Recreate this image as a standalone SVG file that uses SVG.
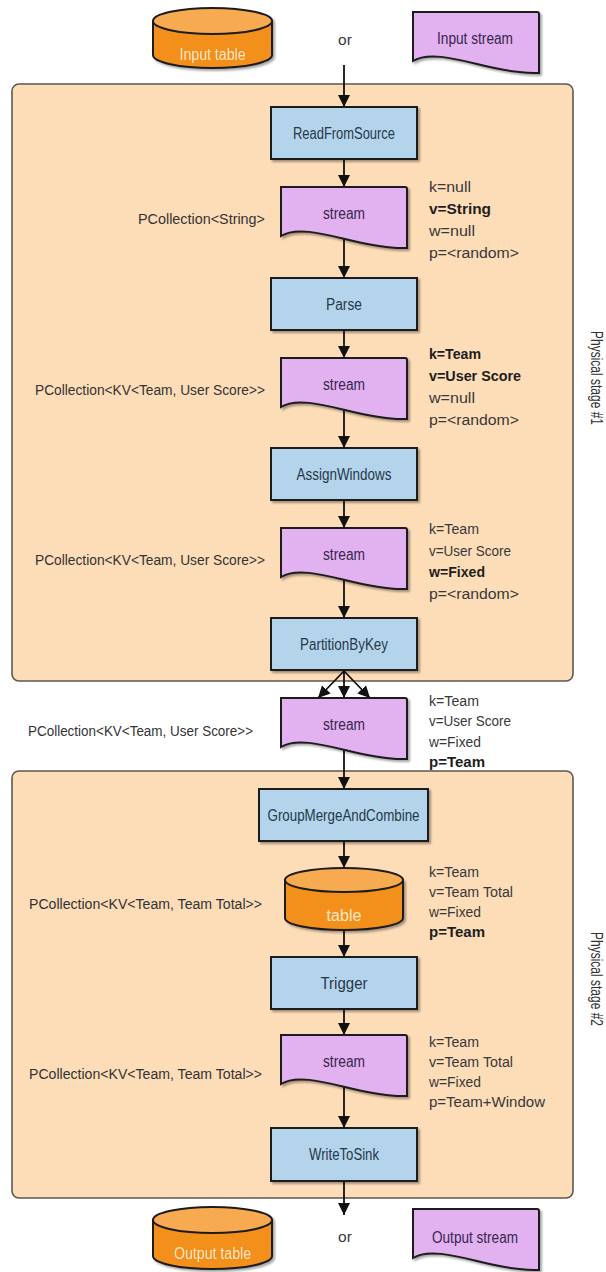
<svg xmlns="http://www.w3.org/2000/svg" xmlns:xlink="http://www.w3.org/1999/xlink" width="606" height="1272" viewBox="0 0 606 1272">
  <style>
    .stage { fill: #fddcb8; stroke: #5f574f; stroke-width: 1.6; }
    .box { fill: #b4d4ec; stroke: #1c1c1c; stroke-width: 2; }
    .strm { fill: #e1b1f0; stroke: #1c1c1c; stroke-width: 2; }
    .cyl { fill: #f3901d; stroke: #1c1c1c; stroke-width: 2; }
    .cyltop { fill: #f7aa50; stroke: #1c1c1c; stroke-width: 2; }
    .shadow { filter: url(#drop); }
    text { font-family: "Liberation Sans", Arial, sans-serif; }
    .lbl { font-size: 16px; fill: #26384a; text-anchor: middle; }
    .slbl { font-size: 16px; fill: #38264e; text-anchor: middle; }
    .tlbl { font-size: 16px; fill: #fde6c6; text-anchor: middle; }
    .note { font-size: 15.5px; fill: #383838; }
    .b { font-weight: bold; fill: #1e1e1e; }
    .coll { font-size: 15.5px; fill: #333333; text-anchor: end; }
    .stg { font-size: 16px; fill: #333333; text-anchor: middle; }
    .edge { stroke: #111111; stroke-width: 1.8; fill: none; marker-end: url(#arrow); }
  </style>
  <defs>
    <filter id="drop" x="-10%" y="-10%" width="130%" height="140%">
      <feDropShadow dx="2" dy="2" stdDeviation="1.2" flood-color="#000000" flood-opacity="0.35"/>
    </filter>
    <marker id="arrow" markerUnits="userSpaceOnUse" markerWidth="13" markerHeight="13" refX="12" refY="6.5" orient="auto">
      <path d="M0,0.5 L12,6.5 L0,12.5 Z" fill="#111111"/>
    </marker>
    <!-- document shape with a wavy lower edge, 126 wide -->
    <path id="doc" d="M0,0 H124 Q126,0 126,2 V61 C108,62 88,58 64,52 C40,46 14,40 0,49 Z"/>
  </defs>

  <!-- physical stage frames -->
  <g id="stage1">
    <rect class="stage" x="12" y="84" width="561" height="597" rx="7"/>
    <text class="stg" transform="translate(591,378) rotate(90)" textLength="94" lengthAdjust="spacingAndGlyphs">Physical stage #1</text>
  </g>
  <g id="stage2">
    <rect class="stage" x="12" y="771" width="561" height="427" rx="7"/>
    <text class="stg" transform="translate(591,979) rotate(90)" textLength="94" lengthAdjust="spacingAndGlyphs">Physical stage #2</text>
  </g>

  <!-- connectors -->
  <g id="connectors">
    <line class="edge" x1="344" y1="65" x2="344" y2="107"/>
    <line class="edge" x1="344" y1="159" x2="344" y2="187"/>
    <line class="edge" x1="344" y1="239" x2="344" y2="278"/>
    <line class="edge" x1="344" y1="330" x2="344" y2="358"/>
    <line class="edge" x1="344" y1="410" x2="344" y2="448"/>
    <line class="edge" x1="344" y1="500" x2="344" y2="528"/>
    <line class="edge" x1="344" y1="580" x2="344" y2="618"/>
    <line class="edge" x1="344" y1="671" x2="318" y2="698"/>
    <line class="edge" x1="344" y1="671" x2="344" y2="698"/>
    <line class="edge" x1="344" y1="671" x2="370" y2="698"/>
    <line class="edge" x1="344" y1="750" x2="344" y2="789"/>
    <line class="edge" x1="344" y1="841" x2="344" y2="868"/>
    <line class="edge" x1="344" y1="930" x2="344" y2="957"/>
    <line class="edge" x1="344" y1="1009" x2="344" y2="1035"/>
    <line class="edge" x1="344" y1="1087" x2="344" y2="1128"/>
    <line class="edge" x1="344" y1="1181" x2="344" y2="1215"/>
  </g>

  <!-- sources -->
  <g id="input-table" class="shadow">
    <path class="cyl" d="M153,21 V55 A59.5,13 0 0 0 272,55 V21 Z"/>
    <ellipse class="cyltop" cx="212.5" cy="21" rx="59.5" ry="13"/>
    <text class="tlbl" x="212.5" y="60" textLength="66" lengthAdjust="spacingAndGlyphs">Input table</text>
  </g>
  <g id="or-top">
    <text class="note" x="345" y="45" text-anchor="middle">or</text>
  </g>
  <g id="input-stream">
    <use xlink:href="#doc" class="strm shadow" transform="translate(413,12)"/>
    <text class="slbl" x="475" y="44" textLength="76" lengthAdjust="spacingAndGlyphs">Input stream</text>
  </g>

  <!-- stage 1 -->
  <g id="read-from-source">
    <rect class="box shadow" x="271" y="107" width="146" height="52"/>
    <text class="lbl" x="344" y="139" textLength="102" lengthAdjust="spacingAndGlyphs">ReadFromSource</text>
  </g>
  <g id="stream-1">
    <use xlink:href="#doc" class="strm shadow" transform="translate(281,187)"/>
    <text class="slbl" x="344" y="219" textLength="42" lengthAdjust="spacingAndGlyphs">stream</text>
    <text class="coll" x="265" y="224" textLength="127" lengthAdjust="spacingAndGlyphs">PCollection&lt;String&gt;</text>
    <text class="note" x="429" y="192" textLength="42" lengthAdjust="spacingAndGlyphs">k=null</text>
    <text class="note b" x="429" y="214" textLength="62" lengthAdjust="spacingAndGlyphs">v=String</text>
    <text class="note" x="429" y="236" textLength="46" lengthAdjust="spacingAndGlyphs">w=null</text>
    <text class="note" x="429" y="258" textLength="90" lengthAdjust="spacingAndGlyphs">p=&lt;random&gt;</text>
  </g>
  <g id="parse">
    <rect class="box shadow" x="271" y="278" width="146" height="52"/>
    <text class="lbl" x="344" y="310" textLength="36" lengthAdjust="spacingAndGlyphs">Parse</text>
  </g>
  <g id="stream-2">
    <use xlink:href="#doc" class="strm shadow" transform="translate(281,358)"/>
    <text class="slbl" x="344" y="390" textLength="42" lengthAdjust="spacingAndGlyphs">stream</text>
    <text class="coll" x="265" y="395" textLength="230" lengthAdjust="spacingAndGlyphs">PCollection&lt;KV&lt;Team, User Score&gt;&gt;</text>
    <text class="note b" x="429" y="359" textLength="52" lengthAdjust="spacingAndGlyphs">k=Team</text>
    <text class="note b" x="429" y="381" textLength="92" lengthAdjust="spacingAndGlyphs">v=User Score</text>
    <text class="note" x="429" y="403" textLength="46" lengthAdjust="spacingAndGlyphs">w=null</text>
    <text class="note" x="429" y="425" textLength="90" lengthAdjust="spacingAndGlyphs">p=&lt;random&gt;</text>
  </g>
  <g id="assign-windows">
    <rect class="box shadow" x="271" y="448" width="146" height="52"/>
    <text class="lbl" x="344" y="480" textLength="95" lengthAdjust="spacingAndGlyphs">AssignWindows</text>
  </g>
  <g id="stream-3">
    <use xlink:href="#doc" class="strm shadow" transform="translate(281,528)"/>
    <text class="slbl" x="344" y="560" textLength="42" lengthAdjust="spacingAndGlyphs">stream</text>
    <text class="coll" x="265" y="565" textLength="230" lengthAdjust="spacingAndGlyphs">PCollection&lt;KV&lt;Team, User Score&gt;&gt;</text>
    <text class="note" x="429" y="534" textLength="50" lengthAdjust="spacingAndGlyphs">k=Team</text>
    <text class="note" x="429" y="556" textLength="82" lengthAdjust="spacingAndGlyphs">v=User Score</text>
    <text class="note b" x="429" y="577" textLength="56" lengthAdjust="spacingAndGlyphs">w=Fixed</text>
    <text class="note" x="429" y="599" textLength="90" lengthAdjust="spacingAndGlyphs">p=&lt;random&gt;</text>
  </g>
  <g id="partition-by-key">
    <rect class="box shadow" x="271" y="618" width="146" height="52"/>
    <text class="lbl" x="344" y="650" textLength="88" lengthAdjust="spacingAndGlyphs">PartitionByKey</text>
  </g>

  <!-- between stages -->
  <g id="stream-4">
    <use xlink:href="#doc" class="strm shadow" transform="translate(281,698)"/>
    <text class="slbl" x="344" y="730" textLength="42" lengthAdjust="spacingAndGlyphs">stream</text>
    <text class="coll" x="253" y="736" textLength="225" lengthAdjust="spacingAndGlyphs">PCollection&lt;KV&lt;Team, User Score&gt;&gt;</text>
    <text class="note" x="429" y="706" textLength="50" lengthAdjust="spacingAndGlyphs">k=Team</text>
    <text class="note" x="429" y="726" textLength="82" lengthAdjust="spacingAndGlyphs">v=User Score</text>
    <text class="note" x="429" y="747" textLength="52" lengthAdjust="spacingAndGlyphs">w=Fixed</text>
    <text class="note b" x="429" y="767" textLength="56" lengthAdjust="spacingAndGlyphs">p=Team</text>
  </g>

  <!-- stage 2 -->
  <g id="group-merge-and-combine">
    <rect class="box shadow" x="259" y="789" width="169" height="52"/>
    <text class="lbl" x="343.5" y="821" textLength="152" lengthAdjust="spacingAndGlyphs">GroupMergeAndCombine</text>
  </g>
  <g id="table">
    <path class="cyl shadow" d="M285,880 V918 A59,12 0 0 0 403,918 V880 Z"/>
    <ellipse class="cyltop" cx="344" cy="880" rx="59" ry="12"/>
    <text class="tlbl" x="344" y="921" textLength="35" lengthAdjust="spacingAndGlyphs">table</text>
    <text class="coll" x="262" y="909" textLength="233" lengthAdjust="spacingAndGlyphs">PCollection&lt;KV&lt;Team, Team Total&gt;&gt;</text>
    <text class="note" x="429" y="877" textLength="50" lengthAdjust="spacingAndGlyphs">k=Team</text>
    <text class="note" x="429" y="897" textLength="84" lengthAdjust="spacingAndGlyphs">v=Team Total</text>
    <text class="note" x="429" y="917" textLength="52" lengthAdjust="spacingAndGlyphs">w=Fixed</text>
    <text class="note b" x="429" y="937" textLength="56" lengthAdjust="spacingAndGlyphs">p=Team</text>
  </g>
  <g id="trigger">
    <rect class="box shadow" x="271" y="957" width="146" height="52"/>
    <text class="lbl" x="344" y="989" textLength="47" lengthAdjust="spacingAndGlyphs">Trigger</text>
  </g>
  <g id="stream-5">
    <use xlink:href="#doc" class="strm shadow" transform="translate(281,1035)"/>
    <text class="slbl" x="344" y="1067" textLength="42" lengthAdjust="spacingAndGlyphs">stream</text>
    <text class="coll" x="262" y="1079" textLength="233" lengthAdjust="spacingAndGlyphs">PCollection&lt;KV&lt;Team, Team Total&gt;&gt;</text>
    <text class="note" x="429" y="1047" textLength="50" lengthAdjust="spacingAndGlyphs">k=Team</text>
    <text class="note" x="429" y="1067" textLength="84" lengthAdjust="spacingAndGlyphs">v=Team Total</text>
    <text class="note" x="429" y="1087" textLength="52" lengthAdjust="spacingAndGlyphs">w=Fixed</text>
    <text class="note" x="429" y="1107" textLength="116" lengthAdjust="spacingAndGlyphs">p=Team+Window</text>
  </g>
  <g id="write-to-sink">
    <rect class="box shadow" x="271" y="1128" width="146" height="53"/>
    <text class="lbl" x="344" y="1160" textLength="70" lengthAdjust="spacingAndGlyphs">WriteToSink</text>
  </g>

  <!-- sinks -->
  <g id="output-table" class="shadow">
    <path class="cyl" d="M153,1220 V1256 A59.5,13 0 0 0 272,1256 V1220 Z"/>
    <ellipse class="cyltop" cx="212.5" cy="1220" rx="59.5" ry="13"/>
    <text class="tlbl" x="212.5" y="1259" textLength="77" lengthAdjust="spacingAndGlyphs">Output table</text>
  </g>
  <g id="or-bottom">
    <text class="note" x="345" y="1242" text-anchor="middle">or</text>
  </g>
  <g id="output-stream">
    <use xlink:href="#doc" class="strm shadow" transform="translate(413,1209)"/>
    <text class="slbl" x="475" y="1243" textLength="86" lengthAdjust="spacingAndGlyphs">Output stream</text>
  </g>
</svg>
